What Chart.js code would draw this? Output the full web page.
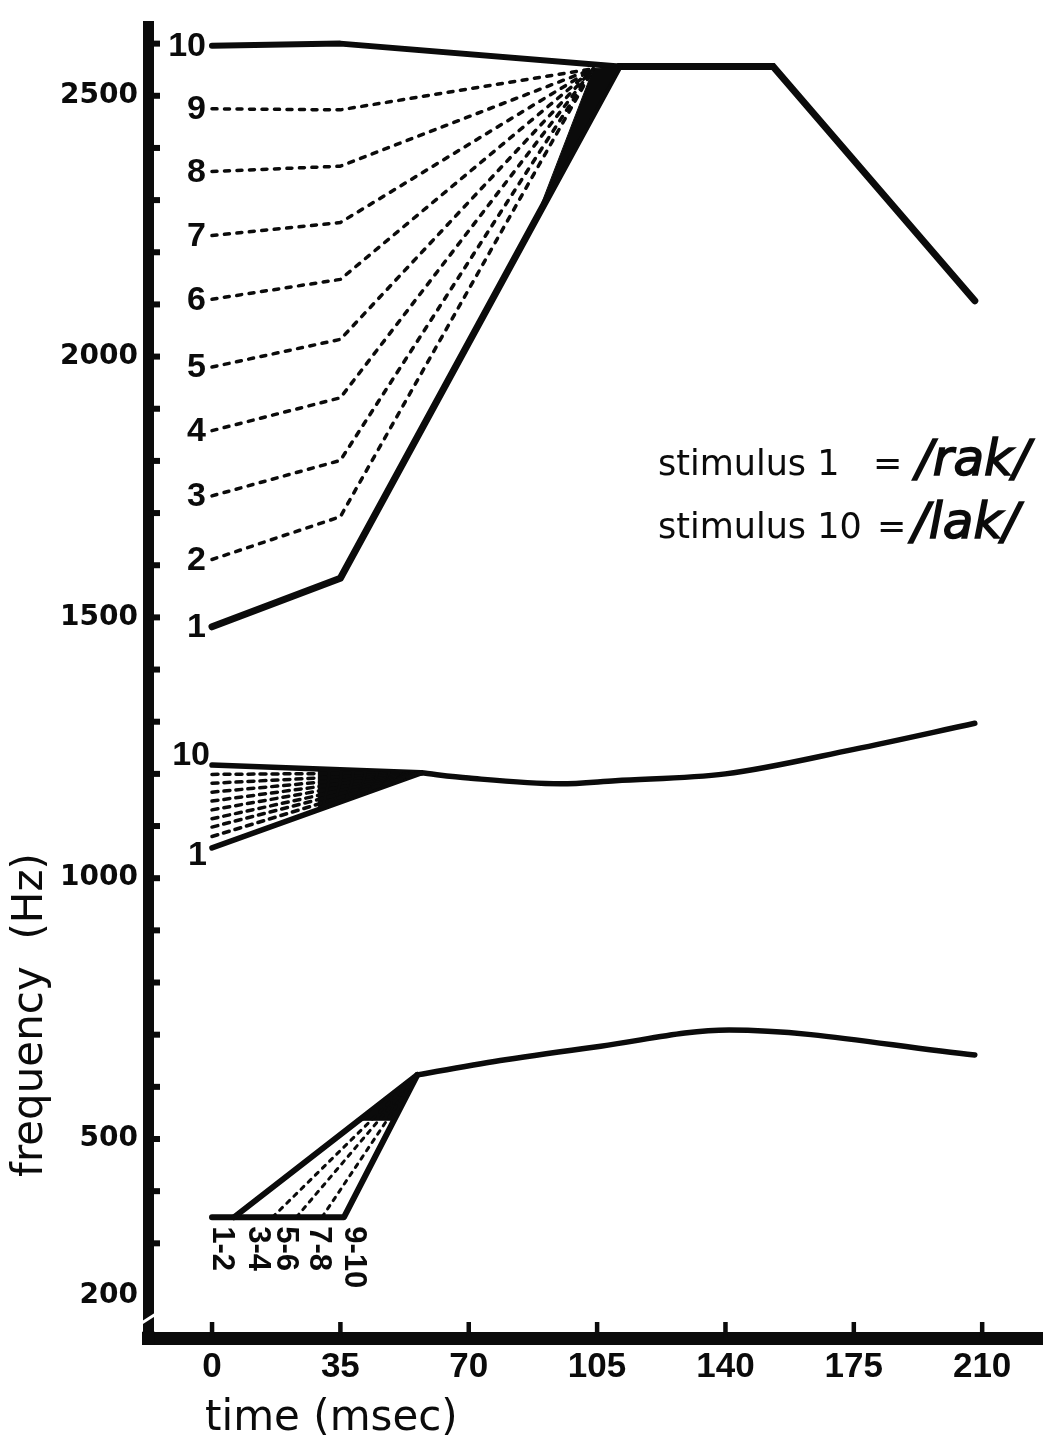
<!DOCTYPE html>
<html>
<head>
<meta charset="utf-8">
<script src="https://cdn.jsdelivr.net/npm/chart.js@4.4.0/dist/chart.umd.min.js"></script>
<style>
  html, body { margin: 0; padding: 0; background: #ffffff; }
  #wrap { position: relative; width: 1043px; height: 1440px; }
</style>
</head>
<body>
<div id="wrap"><canvas id="c"></canvas></div>
<script>
// ---------------- data ----------------
const timeTicks = [0, 35, 70, 105, 140, 175, 210];
const freqTickLabels = [200, 500, 1000, 1500, 2000, 2500];
const freqMinorTicks = [300, 400, 500, 600, 700, 800, 900, 1000, 1100, 1200, 1300, 1400, 1500,
  1600, 1700, 1800, 1900, 2000, 2100, 2200, 2300, 2400, 2500, 2600];
const stimulusLabels = ['1', '2', '3', '4', '5', '6', '7', '8', '9', '10'];
const onsetTime = 0;

// F3 (third formant)
const f3Onset = [1482, 1611, 1733, 1858, 1980, 2110, 2232, 2355, 2475, 2596];
const f3BendTime = 35;
const f3AtBend = [1575, 1693, 1801, 1921, 2033, 2148, 2257, 2365, 2473, 2600];
const f3DashTarget = [104, 2552];
const f3SteadyTimes = [111, 153, 208];
const f3SteadyFreqs = [2556, 2556, 2107];
const f3WedgeTimes = [89.5, 104, 111, 89.5];
const f3WedgeFreqs = [2287, 2552, 2556, 2287];

// F2 (second formant)
const f2Onset = [1058, 1080, 1098, 1114, 1131, 1148, 1165, 1182, 1199, 1217];
const f2SteadyTimes = [57, 70, 95, 110, 140, 175, 208];
const f2SteadyFreqs = [1202, 1192, 1181, 1187, 1200, 1247, 1297];
const f2WedgeTimes = [29, 57, 29, 29];
const f2WedgeFreqs = [1209, 1202, 1131, 1209];

// F1 (first formant)
const f1PairLabels = ['1-2', '3-4', '5-6', '7-8', '9-10'];
const f1Onset = 350;
const f1TransitionStart = [6, 16.5, 23, 30, 36];
const f1PairLabelTimes = [2.5, 12.3, 20, 29, 38.7];
const f1SteadyTimes = [56, 80, 106, 141, 208];
const f1SteadyFreqs = [623, 652, 678, 709, 661];
const f1WedgeTimes = [40, 56, 49.6, 40];
const f1WedgeFreqs = [536, 623, 536, 536];

const breakFreq = 155;

// ---------------- build datasets ----------------
const INK = '#0b0b0b';
const pts = (ts, fs) => ts.map((t, i) => ({ x: t, y: fs[i] }));
const datasets = [];
function line(data, width, opts) {
  datasets.push(Object.assign({
    data, borderColor: INK, backgroundColor: INK, borderWidth: width,
    pointRadius: 0, pointHoverRadius: 0, fill: false, tension: 0,
    borderCapStyle: 'round', borderJoinStyle: 'round'
  }, opts || {}));
}

// dashed intermediate stimuli
for (let i = 1; i <= 8; i++) {
  line([{ x: onsetTime, y: f3Onset[i] }, { x: f3BendTime, y: f3AtBend[i] },
        { x: f3DashTarget[0], y: f3DashTarget[1] }], 3.5, { borderDash: [5, 7.5] });
  line([{ x: onsetTime, y: f2Onset[i] }, { x: f2SteadyTimes[0], y: f2SteadyFreqs[0] }],
       3.5, { borderDash: [6, 6] });
}
for (let k = 1; k <= 3; k++) {
  line([{ x: f1TransitionStart[k], y: f1Onset }, { x: f1SteadyTimes[0], y: f1SteadyFreqs[0] }],
       3, { borderDash: [4, 6] });
}
// convergence wedges
line(pts(f3WedgeTimes, f3WedgeFreqs), 1, { fill: 'shape' });
line(pts(f2WedgeTimes, f2WedgeFreqs), 1, { fill: 'shape' });
line(pts(f1WedgeTimes, f1WedgeFreqs), 1, { fill: 'shape' });

// solid endpoint stimuli
line([{ x: onsetTime, y: f3Onset[0] }, { x: f3BendTime, y: f3AtBend[0] },
      { x: f3SteadyTimes[0], y: f3SteadyFreqs[0] }], 7);
line([{ x: onsetTime, y: f3Onset[9] }, { x: f3BendTime, y: f3AtBend[9] },
      { x: f3SteadyTimes[0], y: f3SteadyFreqs[0] }], 6);
line(pts(f3SteadyTimes, f3SteadyFreqs), 7, { borderJoinStyle: 'miter' });

line([{ x: onsetTime, y: f2Onset[0] }, { x: f2SteadyTimes[0], y: f2SteadyFreqs[0] }], 5.5);
line([{ x: onsetTime, y: f2Onset[9] }, { x: f2SteadyTimes[0], y: f2SteadyFreqs[0] }], 5.5);
line(pts(f2SteadyTimes, f2SteadyFreqs), 5.5, { cubicInterpolationMode: 'monotone' });

line([{ x: f1TransitionStart[0], y: f1Onset }, { x: f1SteadyTimes[0], y: f1SteadyFreqs[0] }], 6);
line([{ x: onsetTime, y: f1Onset }, { x: f1TransitionStart[4], y: f1Onset },
      { x: f1SteadyTimes[0], y: f1SteadyFreqs[0] }], 6);
line(pts(f1SteadyTimes, f1SteadyFreqs), 5.5, { cubicInterpolationMode: 'monotone' });

// ---------------- decorations drawn through the scales ----------------
const deco = {
  id: 'deco',
  afterDraw(chart) {
    const { ctx, chartArea: a, scales } = chart;
    const x = scales.x, y = scales.y;
    ctx.save();
    ctx.fillStyle = INK;
    ctx.strokeStyle = INK;
    // inward minor ticks on frequency axis
    freqMinorTicks.forEach(v => {
      const py = y.getPixelForValue(v);
      ctx.fillRect(a.left, py - 3, 12, 6);
    });
    // inward ticks on time axis
    timeTicks.forEach(t => {
      const px = x.getPixelForValue(t);
      ctx.fillRect(px - 2.2, a.bottom - 16, 4.5, 16);
    });
    // corner of the axes
    ctx.fillRect(a.left - 5.5, a.bottom - 6.5, 12, 13);
    // axis break
    const by = y.getPixelForValue(breakFreq);
    ctx.save();
    ctx.strokeStyle = '#ffffff';
    ctx.lineWidth = 3;
    ctx.beginPath();
    ctx.moveTo(a.left - 11, by + 7);
    ctx.lineTo(a.left + 11, by - 7);
    ctx.stroke();
    ctx.restore();

    // stimulus numbers at F3 onset
    ctx.font = 'bold 34px "Liberation Sans", Arial, sans-serif';
    ctx.textAlign = 'right';
    ctx.textBaseline = 'middle';
    const x0 = x.getPixelForValue(onsetTime);
    stimulusLabels.forEach((lab, i) => {
      ctx.fillText(lab, x0 - 6, y.getPixelForValue(f3Onset[i]) + 1);
    });
    // F2 endpoint labels
    ctx.fillText(stimulusLabels[9], x0 - 2, y.getPixelForValue(f2Onset[9]) - 9);
    ctx.fillText(stimulusLabels[0], x0 - 5, y.getPixelForValue(f2Onset[0]) + 8);
    // F1 pair labels, rotated
    ctx.font = 'bold 31px "Liberation Sans", Arial, sans-serif';
    ctx.textAlign = 'left';
    f1PairLabels.forEach((lab, i) => {
      ctx.save();
      ctx.translate(x.getPixelForValue(f1PairLabelTimes[i]), y.getPixelForValue(f1Onset) + 9);
      ctx.rotate(Math.PI / 2);
      ctx.fillText(lab, 0, 0);
      ctx.restore();
    });

    // key text
    ctx.textBaseline = 'alphabetic';
    ctx.textAlign = 'left';
    ctx.font = '35px "DejaVu Sans", sans-serif';
    ctx.fillText('stimulus 1', 658, 475);
    ctx.fillText('=', 873, 475);
    ctx.fillText('stimulus 10', 658, 538);
    ctx.fillText('=', 877, 538);
    ctx.font = 'oblique 50px "DejaVu Sans", sans-serif';
    ctx.lineWidth = 1.6;
    ctx.fillText('/rak/', 916, 475);
    ctx.strokeText('/rak/', 916, 475);
    ctx.fillText('/lak/', 912, 538);
    ctx.strokeText('/lak/', 912, 538);

    // axis titles
    ctx.font = '42px "DejaVu Sans", sans-serif';
    ctx.save();
    ctx.translate(42, 1015);
    ctx.rotate(-Math.PI / 2);
    ctx.textAlign = 'center';
    ctx.fillText('frequency  (Hz)', 0, 0);
    ctx.restore();

    ctx.textAlign = 'left';
    ctx.fillText('time (msec)', 205, 1430);

    ctx.restore();
  }
};

new Chart(document.getElementById('c'), {
  type: 'line',
  data: { datasets },
  options: {
    responsive: true,
    maintainAspectRatio: false,
    animation: false,
    events: [],
    layout: { padding: { top: 13, right: 0, bottom: 0, left: 0 } },
    plugins: { legend: { display: false }, tooltip: { enabled: false }, title: { display: false } },
    scales: {
      x: {
        type: 'linear',
        position: 'bottom',
        min: -17.45,
        max: 226.6,
        grid: { display: false, drawTicks: false },
        border: { display: true, color: INK, width: 13 },
        afterBuildTicks: s => { s.ticks = timeTicks.map(v => ({ value: v })); },
        afterFit: s => { s.height = 102; },
        ticks: {
          padding: 8,
          color: INK,
          maxRotation: 0,
          autoSkip: false,
          font: { family: '"Liberation Sans", Arial, sans-serif', size: 35, weight: 'bold' },
          callback: v => String(v)
        }
      },
      y: {
        type: 'linear',
        position: 'left',
        min: 118.5,
        max: 2632.25,
        grid: { display: false, drawTicks: false },
        border: { display: true, color: INK, width: 11 },
        afterBuildTicks: s => { s.ticks = freqTickLabels.map(v => ({ value: v })); },
        afterFit: s => { s.width = 148; },
        ticks: {
          padding: 10,
          color: INK,
          autoSkip: false,
          font: { family: '"DejaVu Sans", sans-serif', size: 28, weight: 'bold' },
          callback: v => String(v)
        }
      }
    }
  },
  plugins: [deco]
});
</script>
</body>
</html>
